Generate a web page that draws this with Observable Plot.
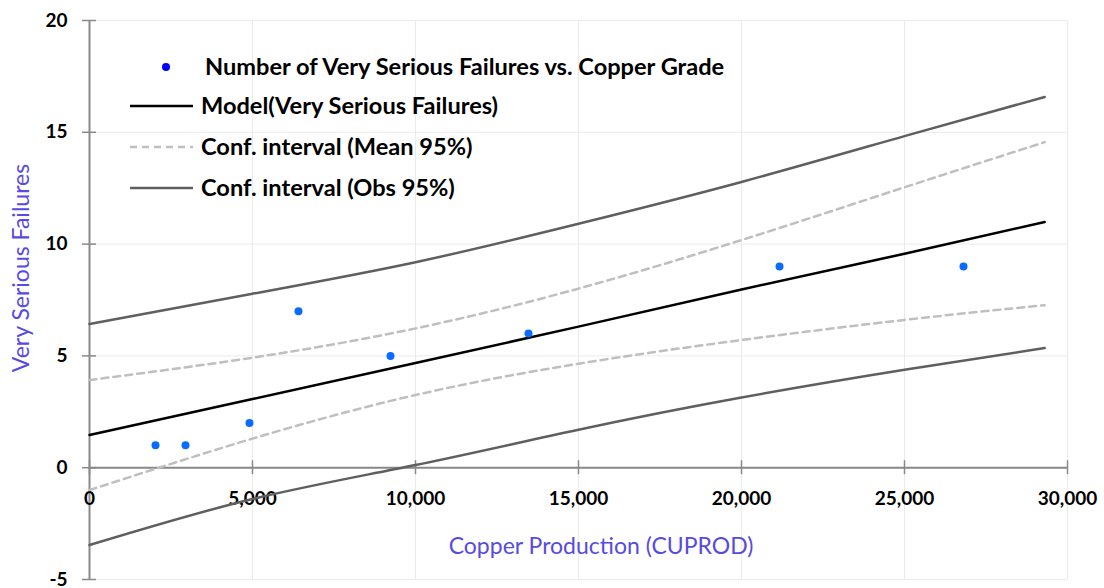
<!DOCTYPE html>
<html>
<head>
<meta charset="utf-8">
<script src="https://cdn.jsdelivr.net/npm/d3@7"></script>
<script src="https://cdn.jsdelivr.net/npm/@observablehq/plot@0.6"></script>
<style>
  html, body { margin: 0; padding: 0; background: #fff; }
  #wrap { position: relative; width: 1104px; height: 588px; font-family: Lato, "Open Sans", sans-serif; }
  #wrap svg { display: block; }
  .leg { position: absolute; font-weight: bold; font-size: 23.6px; line-height: 1; color: #000; white-space: nowrap; transform: translateY(-50%); }
  .axt { position: absolute; color: #574be2; font-size: 23px; line-height: 1; white-space: nowrap; }
</style>
</head>
<body>
<div id="wrap"></div>
<script>
// Observed data points
const cuprod = [2025, 2945, 4908, 6411, 9233, 13466, 21166, 26810];
const failures = [1, 1, 2, 7, 5, 6, 9, 9];

// Curves
const curveX     = [0, 5000, 10000, 15000, 20000, 25000, 29300];
const model      = [1.46, 3.07, 4.68, 6.31, 7.97, 9.57, 10.99];
const meanUpper  = [3.92, 4.92, 6.23, 8.01, 10.18, 12.54, 14.56];
const meanLower  = [-1.0, 1.30, 3.25, 4.65, 5.71, 6.61, 7.27];
const obsUpper   = [6.43, 7.78, 9.19, 10.91, 12.78, 14.83, 16.58];
const obsLower   = [-3.46, -1.40, 0.12, 1.70, 3.14, 4.38, 5.35];

// Axis ticks
const xTicks = [0, 5000, 10000, 15000, 20000, 25000, 30000];
const yTicks = [-5, 0, 5, 10, 15, 20];

const pts = cuprod.map((x, i) => ({x, y: failures[i]}));
const mk = arr => curveX.map((x, i) => ({x, y: arr[i]}));

const fmt = d3.format(",");

const chart = Plot.plot({
  width: 1104,
  height: 588,
  marginLeft: 89,
  marginRight: 37,
  marginTop: 20,
  marginBottom: 9,
  x: {domain: [0, 30000], axis: null},
  y: {domain: [-5, 20], axis: null},
  style: {fontFamily: "Lato, 'Open Sans', sans-serif", background: "#fff"},
  marks: [
    // grid
    Plot.ruleX(xTicks, {stroke: "#ebebeb", strokeWidth: 1}),
    Plot.ruleY(yTicks, {stroke: "#ebebeb", strokeWidth: 1}),
    // axes lines
    Plot.ruleX([0], {stroke: "#898989", strokeWidth: 2}),
    Plot.ruleY([0], {x1: 0, x2: 30000, stroke: "#898989", strokeWidth: 2}),
    // tick marks crossing axes
    Plot.ruleY(yTicks, {x1: 0, x2: 0, insetLeft: -7, insetRight: -7, stroke: "#898989", strokeWidth: 1.5}),
    Plot.ruleX(xTicks, {y1: 0, y2: 0, insetTop: -7, insetBottom: -7, stroke: "#898989", strokeWidth: 1.5}),
    // tick labels
    Plot.text(yTicks, {x: () => 0, y: d => d, text: d => String(d), textAnchor: "end", dx: -22, fontWeight: "bold", fontSize: 19, fill: "#000"}),
    Plot.text(xTicks, {x: d => d, y: () => 0, text: d => fmt(d), dy: 31, fontWeight: "bold", fontSize: 19, fill: "#000"}),
    // confidence intervals
    Plot.line(mk(obsUpper), {x: "x", y: "y", stroke: "#5f5f5f", strokeWidth: 2.5, curve: "natural"}),
    Plot.line(mk(obsLower), {x: "x", y: "y", stroke: "#5f5f5f", strokeWidth: 2.5, curve: "natural"}),
    Plot.line(mk(meanUpper), {x: "x", y: "y", stroke: "#bfbfbf", strokeWidth: 2.5, strokeDasharray: "7,5", curve: "natural"}),
    Plot.line(mk(meanLower), {x: "x", y: "y", stroke: "#bfbfbf", strokeWidth: 2.5, strokeDasharray: "7,5", curve: "natural"}),
    // model
    Plot.line(mk(model), {x: "x", y: "y", stroke: "#000", strokeWidth: 2.5}),
    // points
    Plot.dot(pts, {x: "x", y: "y", r: 4, fill: "#0a6cff", stroke: "none"})
  ]
});

const wrap = document.getElementById("wrap");
wrap.appendChild(chart);

// Legend overlay
const legendItems = [
  {type: "dot", label: "Number of Very Serious Failures vs. Copper Grade", y: 67},
  {type: "solid", color: "#000", label: "Model(Very Serious Failures)", y: 106},
  {type: "dash", color: "#bfbfbf", label: "Conf. interval (Mean 95%)", y: 147},
  {type: "solid", color: "#5f5f5f", label: "Conf. interval (Obs 95%)", y: 188}
];
for (const it of legendItems) {
  const sw = document.createElementNS("http://www.w3.org/2000/svg", "svg");
  sw.setAttribute("width", 70);
  sw.setAttribute("height", 12);
  sw.style.position = "absolute";
  sw.style.left = "128px";
  sw.style.top = (it.y - 6) + "px";
  if (it.type === "dot") {
    sw.innerHTML = `<circle cx="38" cy="6" r="4" fill="#0000ff"/>`;
  } else {
    sw.innerHTML = `<line x1="2" x2="65" y1="6" y2="6" stroke="${it.color}" stroke-width="2.5" ${it.type === "dash" ? 'stroke-dasharray="7,5"' : ""}/>`;
  }
  wrap.appendChild(sw);
  const t = document.createElement("div");
  t.className = "leg";
  t.textContent = it.label;
  t.style.left = (it.type === "dot" ? 205 : 201) + "px";
  t.style.top = it.y + "px";
  wrap.appendChild(t);
}

// Axis titles
const xt = document.createElement("div");
xt.className = "axt";
xt.textContent = "Copper Production (CUPROD)";
xt.style.left = "601px";
xt.style.top = "545px";
xt.style.transform = "translate(-50%, -50%)";
wrap.appendChild(xt);

const yt = document.createElement("div");
yt.className = "axt";
yt.textContent = "Very Serious Failures";
yt.style.left = "20px";
yt.style.top = "268px";
yt.style.transform = "translate(-50%, -50%) rotate(-90deg)";
wrap.appendChild(yt);
</script>
</body>
</html>
